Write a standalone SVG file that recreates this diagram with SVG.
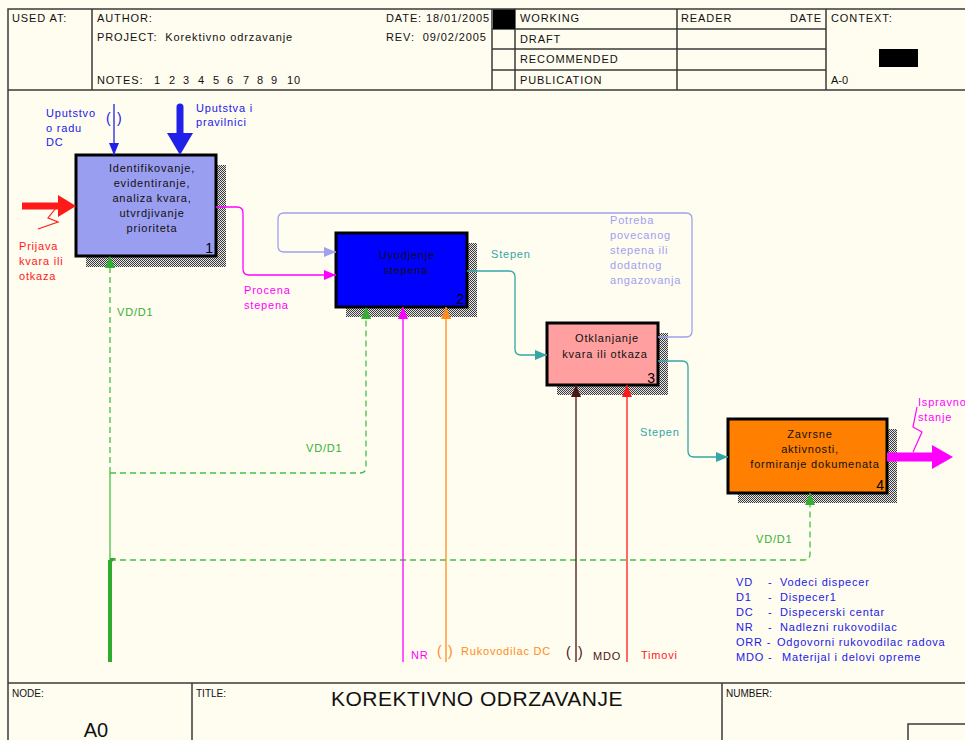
<svg xmlns="http://www.w3.org/2000/svg" width="965" height="740" viewBox="0 0 965 740">
<style>
.t{font-family:"Liberation Sans",Arial,sans-serif;font-size:11px;letter-spacing:0.8px}
.h{font-family:"Liberation Sans",Arial,sans-serif;font-size:11px;letter-spacing:0.9px;fill:#111}
.f{font-family:"Liberation Sans",Arial,sans-serif;font-size:10px;fill:#111}
.frame{stroke:#3a3a3a;stroke-width:1.5;fill:none}
.box{stroke:#000;stroke-width:3}
.num{font-family:"Liberation Sans",Arial,sans-serif;font-size:14px;fill:#000;text-anchor:end}
.nt{font-family:"Liberation Sans",Arial,sans-serif;font-size:11px;letter-spacing:0.8px;fill:#111;text-anchor:middle}
.c{fill:none;stroke-width:1.3}
.dash{stroke-dasharray:6 4}
.par{font-family:"Liberation Sans",Arial,sans-serif;font-size:14px}
.blue{fill:#2020e8}.mag{fill:#ff00ff}.red{fill:#ff1a1a}.grn{fill:#33b033}.teal{fill:#33a6a6}.lav{fill:#a0a0f0}.org{fill:#ff8c1a}.brn{fill:#4a1515}
</style>
<defs>
<pattern id="hatch" width="2" height="2" patternUnits="userSpaceOnUse">
<rect width="2" height="2" fill="#e6e6e6"/>
<rect width="1" height="1" fill="#3a3a3a"/>
<rect x="1" y="1" width="1" height="1" fill="#3a3a3a"/>
</pattern>
<marker id="aMag" viewBox="0 0 12 10" refX="12" refY="5" markerUnits="userSpaceOnUse" markerWidth="12" markerHeight="10" orient="auto"><path d="M0,0L12,5L0,10z" fill="#ff00ff"/></marker>
<marker id="aLav" viewBox="0 0 12 10" refX="12" refY="5" markerUnits="userSpaceOnUse" markerWidth="12" markerHeight="10" orient="auto"><path d="M0,0L12,5L0,10z" fill="#a0a0f0"/></marker>
<marker id="aTeal" viewBox="0 0 12 10" refX="12" refY="5" markerUnits="userSpaceOnUse" markerWidth="12" markerHeight="10" orient="auto"><path d="M0,0L12,5L0,10z" fill="#33a6a6"/></marker>
<marker id="aGrn" viewBox="0 0 12 10" refX="12" refY="5" markerUnits="userSpaceOnUse" markerWidth="12" markerHeight="10" orient="auto"><path d="M0,0L12,5L0,10z" fill="#33b033"/></marker>
<marker id="aOrg" viewBox="0 0 12 10" refX="12" refY="5" markerUnits="userSpaceOnUse" markerWidth="12" markerHeight="10" orient="auto"><path d="M0,0L12,5L0,10z" fill="#ff8c1a"/></marker>
<marker id="aBrn" viewBox="0 0 12 10" refX="12" refY="5" markerUnits="userSpaceOnUse" markerWidth="12" markerHeight="10" orient="auto"><path d="M0,0L12,5L0,10z" fill="#4a1515"/></marker>
<marker id="aRed" viewBox="0 0 12 10" refX="12" refY="5" markerUnits="userSpaceOnUse" markerWidth="12" markerHeight="10" orient="auto"><path d="M0,0L12,5L0,10z" fill="#ff1a1a"/></marker>
<marker id="aBlue" viewBox="0 0 12 10" refX="12" refY="5" markerUnits="userSpaceOnUse" markerWidth="12" markerHeight="10" orient="auto"><path d="M0,0L12,5L0,10z" fill="#2020e8"/></marker>
</defs>
<rect width="965" height="740" fill="#fffcf0"/>

<g id="frame">
<path class="frame" d="M8,740V9H965M8,90H965M8,683H965M92,9V90M492,9V90M515,9V90M677,9V90M826,9V90M492,29H826M492,49H826M492,70H826M192,683V740M722,683V740M908,740V724H965"/>
<text class="h" x="12" y="22">USED AT:</text>
<text class="h" x="97" y="22">AUTHOR:</text>
<text class="h" x="97" y="41" xml:space="preserve">PROJECT:  Korektivno odrzavanje</text>
<text class="h" x="97" y="84">NOTES:</text>
<text class="h" x="154 169 183 198 213 227 243 257 271 287 294" y="84">12345678910</text>
<text class="h" x="386" y="22">DATE: 18/01/2005</text>
<text class="h" x="386" y="41" xml:space="preserve">REV:  09/02/2005</text>
<rect x="493" y="9.5" width="22" height="19.5" fill="#000"/>
<text class="h" x="520" y="22">WORKING</text>
<text class="h" x="520" y="43">DRAFT</text>
<text class="h" x="520" y="63">RECOMMENDED</text>
<text class="h" x="520" y="84">PUBLICATION</text>
<text class="h" x="681" y="22">READER</text>
<text class="h" x="822" y="22" text-anchor="end">DATE</text>
<text class="h" x="831" y="22">CONTEXT:</text>
<rect x="879" y="49" width="39" height="18" fill="#000"/>
<text class="h" x="831" y="84" style="letter-spacing:0">A-0</text>
<text class="f" x="12" y="697">NODE:</text>
<text class="f" x="196" y="697">TITLE:</text>
<text class="f" x="726" y="697">NUMBER:</text>
<text x="477" y="706" text-anchor="middle" style="font-family:'Liberation Sans',Arial,sans-serif;font-size:21px;letter-spacing:0.5px;fill:#111">KOREKTIVNO ODRZAVANJE</text>
<text x="96" y="737" text-anchor="middle" style="font-family:'Liberation Sans',Arial,sans-serif;font-size:20px;fill:#111">A0</text>
</g>

<g id="node1">
<rect x="86" y="165" width="140" height="102" fill="url(#hatch)"/>
<rect class="box" x="76" y="155" width="140" height="101" fill="#9a9ef0"/>
<text class="nt" x="152" y="172">Identifikovanje,</text>
<text class="nt" x="152" y="187">evidentiranje,</text>
<text class="nt" x="152" y="202">analiza kvara,</text>
<text class="nt" x="152" y="217">utvrdjivanje</text>
<text class="nt" x="152" y="232">prioriteta</text>
<text class="num" x="213" y="253">1</text>
</g>

<g id="node2">
<rect x="346" y="243" width="131" height="74" fill="url(#hatch)"/>
<rect class="box" x="336" y="233" width="131" height="74" fill="#0000ff"/>
<text class="nt" x="407" y="259">Uvodjenje</text>
<text class="nt" x="406" y="274">stepena</text>
<text class="num" x="464" y="304">2</text>
</g>

<g id="node3">
<rect x="557" y="333" width="111" height="62" fill="url(#hatch)"/>
<rect class="box" x="547" y="323" width="111" height="62" fill="#ff9f9f"/>
<text class="nt" x="607" y="342">Otklanjanje</text>
<text class="nt" x="605" y="358">kvara ili otkaza</text>
<text class="num" x="655" y="383">3</text>
</g>

<g id="node4">
<rect x="738" y="429" width="159" height="74" fill="url(#hatch)"/>
<rect class="box" x="728" y="419" width="159" height="74" fill="#ff8000"/>
<text class="nt" x="810" y="438">Zavrsne</text>
<text class="nt" x="810" y="453">aktivnosti,</text>
<text class="nt" x="815" y="468">formiranje dokumenata</text>
<text class="num" x="884" y="490">4</text>
</g>

<g id="connectors">
<path d="M22,206H60" stroke="#ff1a1a" stroke-width="7" fill="none"/>
<polygon points="58,195 58,217 76,206" fill="#ff1a1a"/>
<polyline points="38,229 58,222 48,218 56,208" fill="none" stroke="#ff1a1a" stroke-width="1.2"/>
<text class="t red" x="19" y="250">Prijava</text>
<text class="t red" x="19" y="265">kvara ili</text>
<text class="t red" x="19" y="280">otkaza</text>

<path class="c" d="M114,104V155" stroke="#2020e8" marker-end="url(#aBlue)"/>
<text x="106" y="123" class="par blue">(</text>
<text x="117" y="123" class="par blue">)</text>
<text class="t blue" x="46" y="117">Uputstvo</text>
<text class="t blue" x="46" y="132">o radu</text>
<text class="t blue" x="46" y="146">DC</text>

<path d="M180,107V135" stroke="#2020e8" stroke-width="7" stroke-linecap="round" fill="none"/>
<polygon points="167,133 193,133 180,155" fill="#2020e8"/>
<text class="t blue" x="196" y="112">Uputstva i</text>
<text class="t blue" x="196" y="126">pravilnici</text>

<path class="c" d="M216,207H237Q243,207 243,213V269Q243,275 249,275H336" stroke="#ff00ff" marker-end="url(#aMag)"/>
<text class="t mag" x="244" y="294">Procena</text>
<text class="t mag" x="244" y="309">stepena</text>

<path class="c" d="M658,337H686Q692,337 692,331V219Q692,213 686,213H284Q278,213 278,219V246Q278,252 284,252H336" stroke="#a0a0f0" marker-end="url(#aLav)"/>
<text class="t lav" x="610" y="224">Potreba</text>
<text class="t lav" x="610" y="239">povecanog</text>
<text class="t lav" x="610" y="254">stepena ili</text>
<text class="t lav" x="610" y="269">dodatnog</text>
<text class="t lav" x="610" y="284">angazovanja</text>

<path class="c" d="M467,271H509Q515,271 515,277V349Q515,355 521,355H547" stroke="#33a6a6" marker-end="url(#aTeal)"/>
<text class="t teal" x="491" y="258">Stepen</text>
<path class="c" d="M658,361H682Q688,361 688,367V451Q688,457 694,457H728" stroke="#33a6a6" marker-end="url(#aTeal)"/>
<text class="t teal" x="640" y="436">Stepen</text>

<path d="M887,457H934" stroke="#ff00ff" stroke-width="9" fill="none"/>
<polygon points="932,445 932,469 953,457" fill="#ff00ff"/>
<polyline points="917,407 913,427 922,432 913,452" fill="none" stroke="#ff00ff" stroke-width="1.2"/>
<text class="t mag" x="918" y="406">Ispravno</text>
<text class="t mag" x="918" y="421">stanje</text>

<path class="c dash" d="M110,473V256" stroke="#44c044" marker-end="url(#aGrn)"/>
<path class="c dash" d="M110,473H360Q366,473 366,467V307" stroke="#44c044" marker-end="url(#aGrn)"/>
<path class="c dash" d="M110,560H804Q810,560 810,554V493" stroke="#44c044" marker-end="url(#aGrn)"/>
<path class="c" d="M110,473V560" stroke="#44c044"/>
<path d="M110,560V662" stroke="#2eaa2e" stroke-width="4" fill="none"/>
<polygon points="110,558 116,558 110,564" fill="#2eaa2e"/>
<text class="t grn" x="117" y="316">VD/D1</text>
<text class="t grn" x="306" y="452">VD/D1</text>
<text class="t grn" x="756" y="543">VD/D1</text>

<path class="c" d="M403,662V307" stroke="#ff00ff" marker-end="url(#aMag)"/>
<text class="t mag" x="411" y="659">NR</text>
<path class="c" d="M446,662V307" stroke="#ff8c1a" marker-end="url(#aOrg)"/>
<text x="437" y="656" class="par org">(</text>
<text x="448" y="656" class="par org">)</text>
<text class="t org" x="461" y="655">Rukovodilac DC</text>
<path class="c" d="M576,662V385" stroke="#4a1515" marker-end="url(#aBrn)"/>
<text x="566" y="657" class="par brn">(</text>
<text x="578" y="657" class="par brn">)</text>
<text class="t brn" x="593" y="660">MDO</text>
<path class="c" d="M627,662V385" stroke="#ff1a1a" marker-end="url(#aRed)"/>
<text class="t red" x="641" y="659">Timovi</text>
</g>

<g id="legend" class="t blue">
<text x="736" y="586">VD</text><text x="768" y="586">-</text><text x="780" y="586">Vodeci dispecer</text>
<text x="736" y="601">D1</text><text x="768" y="601">-</text><text x="780" y="601">Dispecer1</text>
<text x="736" y="616">DC</text><text x="768" y="616">-</text><text x="780" y="616">Dispecerski centar</text>
<text x="736" y="631">NR</text><text x="768" y="631">-</text><text x="780" y="631">Nadlezni rukovodilac</text>
<text x="736" y="646">ORR -</text><text x="777" y="646">Odgovorni rukovodilac radova</text>
<text x="736" y="661">MDO -</text><text x="782" y="661">Materijal i delovi opreme</text>
</g>
</svg>
